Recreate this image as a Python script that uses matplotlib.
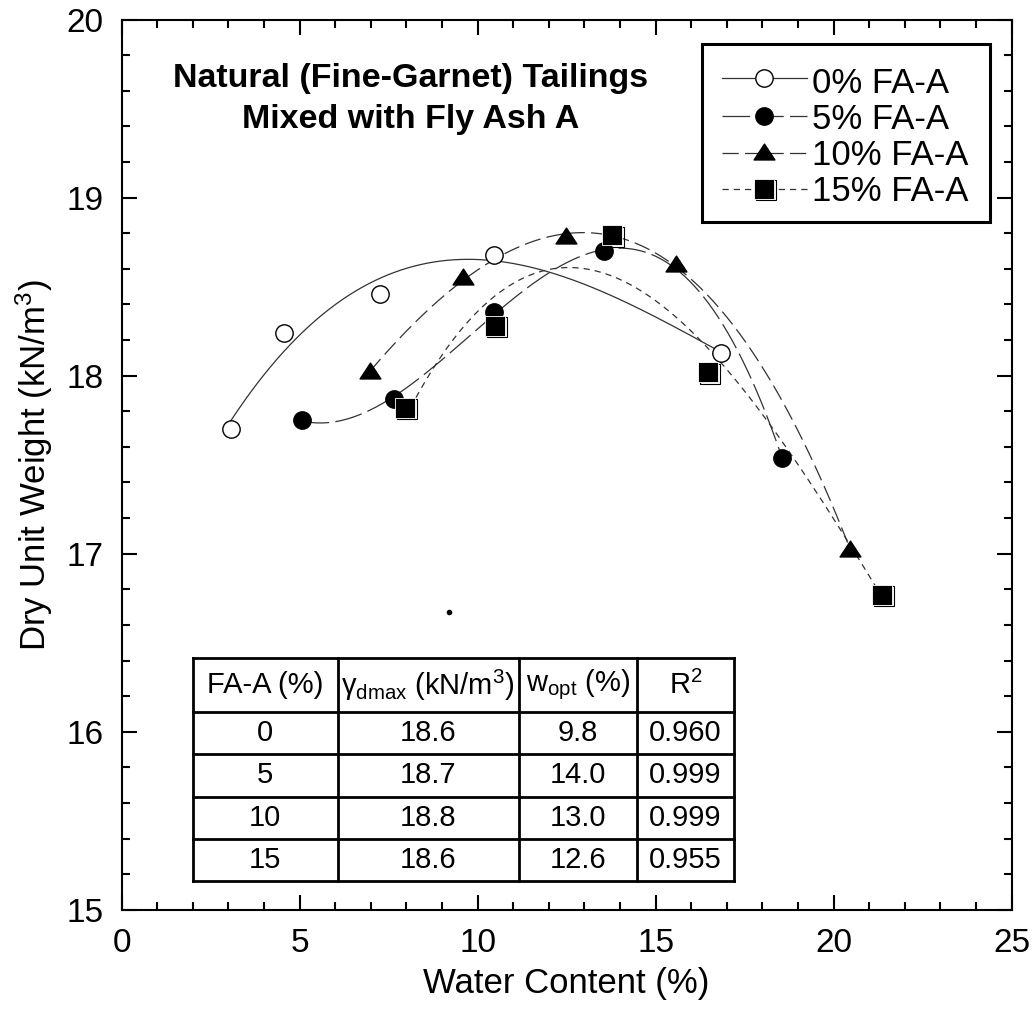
import matplotlib
matplotlib.use("Agg")
import matplotlib.pyplot as plt
import numpy as np
from matplotlib.path import Path
from matplotlib.lines import Line2D
from matplotlib.patches import Rectangle
from matplotlib.transforms import ScaledTranslation

plt.rcParams["font.family"] = ["Liberation Sans", "DejaVu Sans"]
plt.rcParams["mathtext.fontset"] = "custom"
plt.rcParams["mathtext.rm"] = "Liberation Sans"
plt.rcParams["mathtext.it"] = "Liberation Sans:italic"
plt.rcParams["mathtext.bf"] = "Liberation Sans:bold"

# data
w_0 = [3.07, 4.55, 7.26, 10.46, 16.83]
g_0 = [17.70, 18.24, 18.46, 18.68, 18.13]
w_5 = [5.06, 7.65, 10.46, 13.54, 18.55]
g_5 = [17.75, 17.87, 18.36, 18.70, 17.54]
w_10 = [6.97, 9.59, 12.48, 15.58, 20.47]
g_10 = [18.02, 18.55, 18.78, 18.62, 17.02]
w_15 = [7.97, 10.48, 13.77, 16.47, 21.37]
g_15 = [17.82, 18.28, 18.79, 18.02, 16.77]

labels = ["0% FA-A", "5% FA-A", "10% FA-A", "15% FA-A"]

table_header = ["FA-A (%)", r"$\mathrm{γ_{dmax}}$ (kN/m$^3$)", r"w$_\mathrm{opt}$ (%)", r"R$^2$"]
fa_content = ["0", "5", "10", "15"]
gamma_max = ["18.6", "18.7", "18.8", "18.6"]
w_opt = ["9.8", "14.0", "13.0", "12.6"]
r_squared = ["0.960", "0.999", "0.999", "0.955"]

stray_point = ([9.2], [16.67])

tri = Path([(-1, -0.62), (1, -0.62), (0, 0.9), (-1, -0.62)],
           [Path.MOVETO, Path.LINETO, Path.LINETO, Path.CLOSEPOLY])

series = [
    (w_0, g_0, dict(marker="o", mfc="white", mec="black", mew=1.0, ms=12.5, ls="-")),
    (w_5, g_5, dict(marker="o", mfc="black", mec="black", mew=1.0, ms=12.5, ls=(0, (22, 5)))),
    (w_10, g_10, dict(marker=tri, mfc="black", mec="black", mew=1.0, ms=15, ls=(0, (13, 5)))),
    (w_15, g_15, dict(marker="s", mfc="black", mec="white", mew=0.6, ms=14, ls=(0, (5, 4)))),
]

fig = plt.figure(figsize=(10.34, 10.09), dpi=100)
ax = fig.add_axes([0.1177, 0.0984, 0.8607, 0.8821])
# small shift used for the shadow outline around the square symbols
shadow = ScaledTranslation(1.8 / 100, -1.5 / 100, fig.dpi_scale_trans)

# pixel -> axes fraction helpers (axes spans 121.7..1011.7 x 19.7..909.7 px)
def fx(px):
    return (px - 121.7) / 890.0

def fy(py):
    return 1 - (py - 19.7) / 890.0

for w, g, st in series:
    w = np.array(w)
    g = np.array(g)
    coef = np.polyfit(w, g, 3)
    xs = np.linspace(w.min(), w.max(), 300)
    ax.plot(xs, np.polyval(coef, xs), color="#333333", lw=0.9, ls=st["ls"], zorder=2)
    if st["marker"] == "s":
        ax.plot(w, g, ls="none", marker="s", ms=14.2, mfc="none", mec="black", mew=0.8,
                transform=ax.transData + shadow, zorder=3)
    ax.plot(w, g, ls="none", marker=st["marker"], ms=st["ms"], mfc=st["mfc"],
            mec=st["mec"], mew=st["mew"], zorder=4)

ax.plot(*stray_point, ls="none", marker="o", ms=3, color="black")

ax.set_xlim(0, 25)
ax.set_ylim(15, 20)
ax.set_xticks(np.arange(0, 26, 5))
ax.set_yticks(np.arange(15, 21, 1))
ax.set_xticks(np.arange(0, 26, 1), minor=True)
ax.set_yticks(np.arange(15, 20.01, 0.2), minor=True)
ax.tick_params(which="both", direction="in", top=True, right=True, width=1.5,
               labelsize=24)
ax.tick_params(which="major", length=11, pad=13)
ax.tick_params(which="minor", length=6)
for s in ax.spines.values():
    s.set_linewidth(1.5)

ax.set_xlabel("Water Content (%)", fontsize=25, labelpad=6)
ax.set_ylabel(r"Dry Unit Weight (kN/m$^3$)", fontsize=25, labelpad=8)

ax.text(8.11, 19.62, "Natural (Fine-Garnet) Tailings", ha="center", va="baseline",
        fontsize=24.5, fontweight="bold")
ax.text(8.11, 19.39, "Mixed with Fly Ash A", ha="center", va="baseline",
        fontsize=24.5, fontweight="bold")

# legend drawn by hand to follow the box of the original
ax.add_patch(Rectangle((fx(701.7), fy(221.7)), fx(990) - fx(701.7), fy(44.3) - fy(221.7),
                       transform=ax.transAxes, fill=True, facecolor="white",
                       edgecolor="black", lw=2.2, zorder=6))
line_y = [78.3, 116.0, 153.0, 189.0]
base_y = [92.7, 128.7, 165.0, 201.0]
for (w, g, st), lab, ly, by in zip(series, labels, line_y, base_y):
    ax.add_line(Line2D([fx(721.7), fx(806.7)], [fy(ly), fy(ly)], transform=ax.transAxes,
                       color="#333333", lw=0.9, ls=st["ls"], zorder=7))
    if st["marker"] == "s":
        ax.add_line(Line2D([fx(764)], [fy(ly)], transform=ax.transAxes + shadow,
                           ls="none", marker="s", ms=14.2, mfc="none", mec="black",
                           mew=0.8, zorder=8))
    ax.add_line(Line2D([fx(764)], [fy(ly)], transform=ax.transAxes, ls="none",
                       marker=st["marker"], ms=st["ms"], mfc=st["mfc"], mec=st["mec"],
                       mew=st["mew"], zorder=9))
    ax.text(fx(811.7), fy(by), lab, transform=ax.transAxes, ha="left", va="baseline",
            fontsize=25, zorder=9)

# summary table (axes fraction coordinates)
col_edges = [fx(192.7), fx(337.6), fx(518.8), fx(637.0), fx(734.0)]
top = fy(657.7)
hdr = fy(712.3)
bot = fy(880.7)
row_edges = [top, hdr] + [hdr - (hdr - bot) * k / 4 for k in range(1, 5)]
tkw = dict(transform=ax.transAxes, color="black", lw=2.0, zorder=5)
for x in col_edges:
    ax.plot([x, x], [bot, top], **tkw)
for y in row_edges:
    ax.plot([col_edges[0], col_edges[-1]], [y, y], **tkw)
cols = [fa_content, gamma_max, w_opt, r_squared]
for j, hd in enumerate(table_header):
    xc = (col_edges[j] + col_edges[j + 1]) / 2
    ax.text(xc, (row_edges[0] + row_edges[1]) / 2, hd, transform=ax.transAxes,
            ha="center", va="center", fontsize=21, zorder=6)
    for i, val in enumerate(cols[j]):
        ax.text(xc, (row_edges[i + 1] + row_edges[i + 2]) / 2, val,
                transform=ax.transAxes, ha="center", va="center", fontsize=21, zorder=6)

fig.savefig("out.png", dpi=100)
